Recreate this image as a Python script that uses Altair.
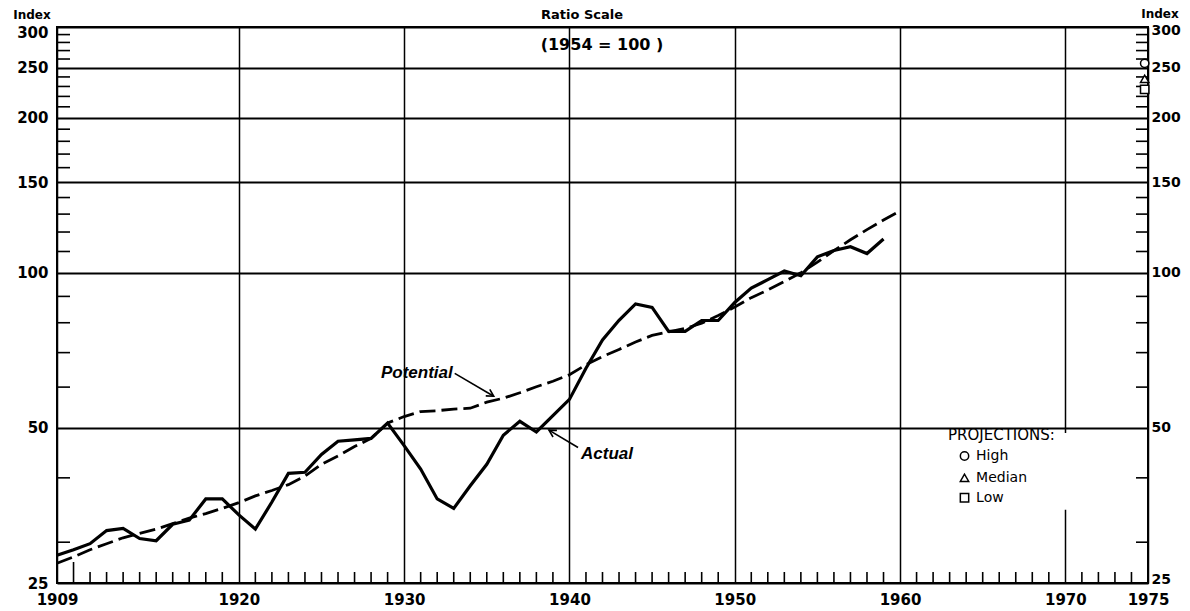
import altair as alt
import pandas as pd

# ---------------- data ----------------
years_actual = list(range(1909, 1960))
actual = [28.3, 29.0, 29.8, 31.6, 31.9, 30.5, 30.2, 32.5, 33.1, 36.4,
          36.4, 33.9, 31.8, 35.9, 40.8, 41.0, 44.4, 47.1, 47.4, 47.7,
          51.1, 46.2, 41.6, 36.4, 34.9, 38.6, 42.5, 48.4, 51.5, 49.1,
          52.8, 56.8, 65.3, 74.1, 80.9, 87.0, 85.7, 77.0, 77.0, 80.8,
          80.8, 87.6, 93.4, 97.0, 100.8, 98.7, 107.4, 110.5, 112.4, 109.0,
          116.3]

years_potential = list(range(1909, 1961))
potential = [27.3, 28.1, 29.0, 29.8, 30.6, 31.2, 31.8, 32.6, 33.4, 34.1,
             34.9, 35.8, 36.9, 37.8, 38.8, 40.3, 42.5, 44.1, 46.0, 47.7,
             51.1, 52.6, 53.8, 54.0, 54.4, 54.6, 56.1, 57.1, 58.5, 60.1,
             61.6, 63.4, 66.3, 68.8, 71.0, 73.4, 75.6, 76.8, 78.0, 79.8,
             82.6, 85.8, 89.5, 92.6, 96.2, 100.0, 104.9, 110.4, 115.9, 121.3,
             126.6, 131.9]

proj_labels = ["High", "Median", "Low"]
proj_values = [255, 238, 227]
proj_shapes = ["circle", "triangle-up", "square"]
proj_year = [1974.8, 1974.8, 1974.8]

legend_symbol_year = [1963.9, 1963.9, 1963.9]
legend_label_year = [1964.6, 1964.6, 1964.6]
legend_values = [44.1, 40.0, 36.6]

y_labels = [25, 50, 100, 150, 200, 250, 300]
y_minor = [30, 40, 60, 70, 80, 90, 110, 120, 130, 140, 160, 170, 180, 190,
           210, 220, 230, 240, 260, 270, 280, 290]
x_labels = [1909, 1920, 1930, 1940, 1950, 1960, 1970, 1975]
x_minor = [1911, 1912, 1913, 1914, 1915, 1916, 1917, 1918, 1919,
           1921, 1922, 1923, 1924, 1925, 1926, 1927, 1928, 1929,
           1931, 1932, 1933, 1934, 1935, 1936, 1937, 1938, 1939,
           1941, 1942, 1943, 1944, 1945, 1946, 1947, 1948, 1949,
           1951, 1952, 1953, 1954, 1955, 1956, 1957, 1958, 1959,
           1961, 1962, 1963, 1964, 1965, 1966, 1967, 1968, 1969,
           1971, 1972, 1973, 1974]
x_major_tick = [1910]

# annotation texts and arrows (data coordinates)
ann_text = ["Potential", "Actual"]
ann_year = [1932.94, 1940.7]
ann_value = [63.8, 44.4]
ann_align = ["right", "left"]
arrow_x1 = [1933.06, 1940.52]
arrow_y1 = [63.8, 45.8]
arrow_x2 = [1935.42, 1938.76]
arrow_y2 = [57.6, 49.5]
arrow_angle = [31.6, 210.4]

# ---------------- chart ----------------
W, H = 1091, 556
FONT = "DejaVu Sans"

xs = alt.Scale(domain=[1909, 1975], nice=False, zero=False)
ys = alt.Scale(type="log", domain=[25, 300], nice=False)

df_act = pd.DataFrame({"year": years_actual, "value": actual})
df_pot = pd.DataFrame({"year": years_potential, "value": potential})

X_none = lambda f: alt.X(f, scale=xs, axis=None)
Y_none = lambda f: alt.Y(f, scale=ys, axis=None)

pot = alt.Chart(df_pot).mark_line(color="black", strokeWidth=2.8, strokeDash=[16, 6]).encode(
    x=alt.X("year:Q", scale=xs, title=None,
            axis=alt.Axis(values=x_labels, format="d", grid=True, gridWidth=1.5,
                          orient="bottom", labelFlush=False, labelPadding=9,
                          labelOverlap=False)),
    y=alt.Y("value:Q", scale=ys, title=None,
            axis=alt.Axis(values=y_labels, format="d", orient="left", grid=True,
                          gridWidth=2, labelPadding=9, labelFlush=False,
                          labelOverlap=False,
                          labelOffset={"condition": {"test": "datum.value == 300", "value": 5},
                                       "value": 0})),
)

act = alt.Chart(df_act).mark_line(color="black", strokeWidth=3.2).encode(
    x=X_none("year:Q"),
    y=alt.Y("value:Q", scale=ys, title=None,
            axis=alt.Axis(values=y_labels, format="d", orient="right", grid=False,
                          labelPadding=3, labelFontSize=14, labelFlush=False,
                          labelOverlap=False,
                          labelOffset={"condition": [
                              {"test": "datum.value == 25", "value": -4},
                              {"test": "datum.value == 300", "value": 3}],
                              "value": 0})),
)

# white patch behind the projections legend
df_patch = pd.DataFrame({"x1": [1962.5], "x2": [1970.6], "y1": [34.7], "y2": [48.9]})
patch = alt.Chart(df_patch).mark_rect(color="white").encode(
    x=X_none("x1:Q"), x2="x2:Q", y=Y_none("y1:Q"), y2="y2:Q")

# inward tick marks
df_xminor = pd.DataFrame({"year": x_minor})
xtick = alt.Chart(df_xminor).mark_rule(color="black", strokeWidth=1.6).encode(
    x=X_none("year:Q"), y=alt.value(H), y2=alt.value(H - 11))
df_xmajor = pd.DataFrame({"year": x_major_tick})
xtick_big = alt.Chart(df_xmajor).mark_rule(color="black", strokeWidth=1.6).encode(
    x=X_none("year:Q"), y=alt.value(H), y2=alt.value(H - 21))
df_yminor = pd.DataFrame({"v": y_minor})
ytick_l = alt.Chart(df_yminor).mark_rule(color="black", strokeWidth=1.6).encode(
    y=Y_none("v:Q"), x=alt.value(0), x2=alt.value(13))
ytick_r = alt.Chart(df_yminor).mark_rule(color="black", strokeWidth=1.6).encode(
    y=Y_none("v:Q"), x=alt.value(W - 12), x2=alt.value(W))

# annotations
df_ann = pd.DataFrame({"t": ann_text, "year": ann_year, "value": ann_value, "al": ann_align})
ann_r = alt.Chart(df_ann[df_ann.al == "right"]).mark_text(
    align="right", baseline="middle", font="Liberation Sans", fontStyle="italic",
    fontWeight="bold", fontSize=17, color="black").encode(
    x=X_none("year:Q"), y=Y_none("value:Q"), text="t:N")
ann_l = alt.Chart(df_ann[df_ann.al == "left"]).mark_text(
    align="left", baseline="middle", font="Liberation Sans", fontStyle="italic",
    fontWeight="bold", fontSize=17, color="black").encode(
    x=X_none("year:Q"), y=Y_none("value:Q"), text="t:N")

df_arr = pd.DataFrame({"x1": arrow_x1, "y1": arrow_y1, "x2": arrow_x2, "y2": arrow_y2,
                       "ang": arrow_angle})
arr_line = alt.Chart(df_arr).mark_rule(color="black", strokeWidth=1.6).encode(
    x=X_none("x1:Q"), x2="x2:Q", y=Y_none("y1:Q"), y2="y2:Q")
arr_head = alt.Chart(df_arr).mark_point(
    shape="M-1,-0.55L0,0L-1,0.55", filled=False, color="black", strokeWidth=1.6,
    size=196, opacity=1).encode(
    x=X_none("x2:Q"), y=Y_none("y2:Q"), angle=alt.Angle("ang:Q", scale=None))

# projection markers
df_proj = pd.DataFrame({"year": proj_year, "value": proj_values, "shape": proj_shapes,
                        "lab": proj_labels})
proj = alt.Chart(df_proj).mark_point(filled=True, fill="white", stroke="black",
                                     strokeWidth=1.5, size=70, opacity=1).encode(
    x=X_none("year:Q"), y=Y_none("value:Q"),
    shape=alt.Shape("shape:N", scale=None))

# legend
df_leg = pd.DataFrame({"sx": legend_symbol_year, "lx": legend_label_year,
                       "value": legend_values, "shape": proj_shapes, "lab": proj_labels})
leg_sym = alt.Chart(df_leg).mark_point(filled=False, color="black", strokeWidth=1.5,
                                       size=70, opacity=1).encode(
    x=X_none("sx:Q"), y=Y_none("value:Q"), shape=alt.Shape("shape:N", scale=None))
leg_lab = alt.Chart(df_leg).mark_text(align="left", baseline="middle", font=FONT,
                                      fontSize=14, color="black").encode(
    x=X_none("lx:Q"), y=Y_none("value:Q"), text="lab:N")
df_legt = pd.DataFrame({"t": ["PROJECTIONS:"], "year": [1962.9], "value": [48.4]})
leg_title = alt.Chart(df_legt).mark_text(align="left", baseline="middle", font=FONT,
                                         fontSize=15, color="black").encode(
    x=X_none("year:Q"), y=Y_none("value:Q"), text="t:N")

# titles
one = pd.DataFrame({"a": [0]})
def label(txt, x, y, size, align="center", weight="bold", baseline="middle"):
    return alt.Chart(one).mark_text(text=txt, align=align, baseline=baseline, font=FONT,
                                    fontSize=size, fontWeight=weight, color="black").encode(
        x=alt.value(x), y=alt.value(y))

t_ratio = label("Ratio Scale", 525, -12, 13)
t_base = label("(1954 = 100 )", 545, 18, 16)
t_idx_l = label("Index", -25, -17, 12, baseline="top")
t_idx_r = label("Index", 1103, -18, 12, baseline="top")

chart = alt.layer(
    pot, act, patch, xtick, xtick_big, ytick_l, ytick_r,
    arr_line, arr_head, ann_r, ann_l, proj, leg_sym, leg_lab, leg_title,
    t_ratio, t_base, t_idx_l, t_idx_r,
).resolve_axis(x="independent", y="independent").properties(
    width=W, height=H,
    autosize=alt.AutoSizeParams(type="none"),
    padding={"left": 49, "top": 19, "right": 34, "bottom": 27},
).configure_view(stroke="black", strokeWidth=2).configure_axis(
    labelFont=FONT, labelFontWeight="bold", labelFontSize=15, labelColor="black",
    gridColor="black", gridOpacity=1, domain=False, ticks=False,
)

chart.save("out.html", embed_options={"renderer": "svg", "actions": False})
